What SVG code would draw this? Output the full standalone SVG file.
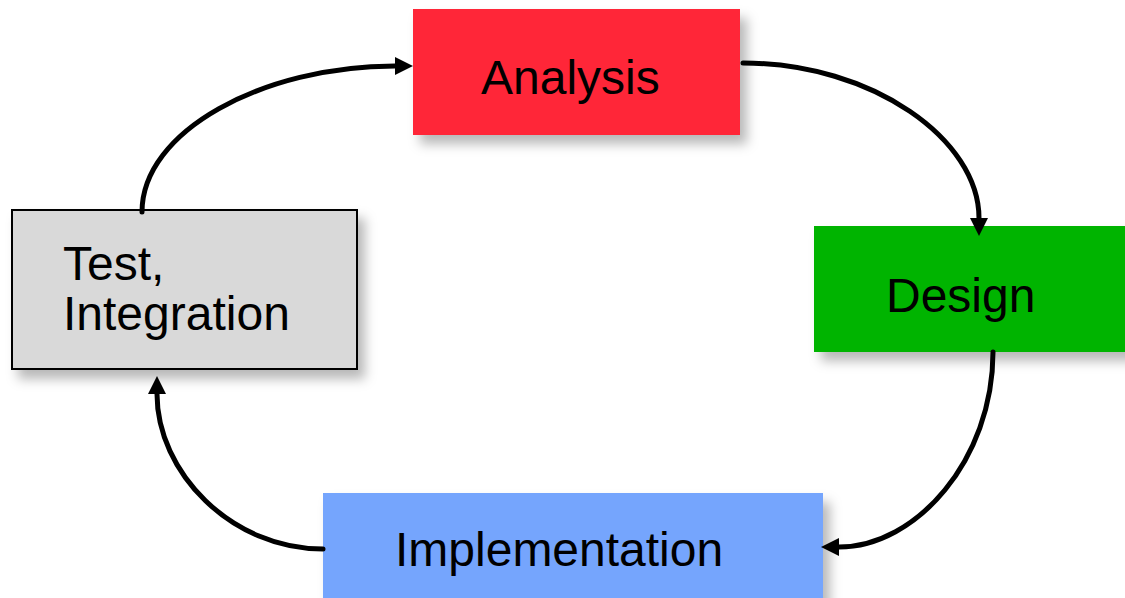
<svg xmlns="http://www.w3.org/2000/svg" width="1125" height="598" viewBox="0 0 1125 598">
<style>
.lbl{font-family:"Liberation Sans",Arial,sans-serif;font-size:48px;fill:#000}
.conn{fill:none;stroke:#000;stroke-width:5;stroke-linecap:round}
</style>
<defs>
<filter id="sh" x="-10%" y="-20%" width="130%" height="150%">
<feDropShadow dx="7" dy="9" stdDeviation="6" flood-color="#000" flood-opacity="0.28"/>
</filter>
<marker id="ah" markerUnits="userSpaceOnUse" markerWidth="20" markerHeight="20" refX="0" refY="9" orient="auto">
<path d="M0,0 L18,9 L0,18 Z" fill="#000"/>
</marker>
</defs>
<rect width="1125" height="598" fill="#fff"/>
<g id="analysis">
<rect x="413" y="9" width="327" height="126" fill="#FF2837" filter="url(#sh)"/>
<text class="lbl" x="481" y="94">Analysis</text>
</g>
<g id="design">
<rect x="814" y="226" width="320" height="126" fill="#00B400" filter="url(#sh)"/>
<text class="lbl" x="886" y="312">Design</text>
</g>
<g id="implementation">
<rect x="323" y="493" width="500" height="120" fill="#74A5FD" filter="url(#sh)"/>
<text class="lbl" x="395" y="566">Implementation</text>
</g>
<g id="test">
<rect x="12" y="210" width="345" height="159" fill="#D9D9D9" stroke="#000" stroke-width="2" filter="url(#sh)"/>
<text class="lbl" x="63" y="280">Test,</text>
<text class="lbl" x="63" y="330">Integration</text>
</g>
<g id="connectors">
<path class="conn" d="M142,212 C142,131 263,66 395,66" marker-end="url(#ah)"/>
<path class="conn" d="M743,63 C873,63 979,140 979,218" marker-end="url(#ah)"/>
<path class="conn" d="M993,352 C993,460 916,547 839,547" marker-end="url(#ah)"/>
<path class="conn" d="M323,549 C231,549 157,472 157,394" marker-end="url(#ah)"/>
</g>
</svg>
